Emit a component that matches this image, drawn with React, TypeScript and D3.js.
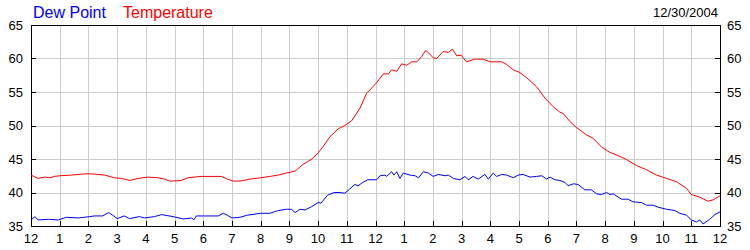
import React from "react";
import * as d3 from "d3";

const hourLabels = ["12","1","2","3","4","5","6","7","8","9","10","11","12","1","2","3","4","5","6","7","8","9","10","11","12"];
const yTicks = [35, 40, 45, 50, 55, 60, 65];
const dateLabel = "12/30/2004";

const tempHours = [0,0.25,0.47,0.65,0.82,1.0,1.4,1.93,2.2,2.57,2.9,3.15,3.44,3.73,4.08,4.42,4.66,4.83,5.24,5.47,5.93,6.63,6.84,7.05,7.28,7.63,8.0,8.32,8.61,8.9,9.2,9.48,9.78,10.0,10.18,10.41,10.7,10.93,11.17,11.46,11.69,11.87,12.04,12.27,12.45,12.56,12.74,12.91,13.09,13.26,13.44,13.61,13.75,13.84,14.01,14.13,14.36,14.54,14.68,14.83,14.98,15.17,15.46,15.75,15.99,16.4,16.57,16.8,17.03,17.27,17.61,17.9,18.19,18.42,18.54,18.77,19.0,19.35,19.58,19.87,20.16,20.51,20.75,21.1,21.44,21.79,22.14,22.49,22.84,23.0,23.3,23.58,23.76,24.0];
const tempValues = [42.6,42.1,42.3,42.2,42.4,42.5,42.6,42.8,42.75,42.6,42.2,42.1,41.8,42.1,42.3,42.2,42.0,41.7,41.8,42.2,42.4,42.4,42.0,41.7,41.7,42.0,42.2,42.4,42.6,42.9,43.2,44.2,45.0,45.9,46.9,48.3,49.5,50.0,50.7,52.6,54.8,55.6,56.4,57.7,57.7,58.3,58.1,59.2,59.0,59.5,59.5,60.3,61.2,60.9,60.1,60.0,61.05,60.9,61.4,60.4,60.5,59.5,59.9,59.9,59.5,59.5,59.1,58.3,57.9,57.1,55.8,54.1,52.8,52.0,51.8,50.6,49.7,48.6,48.1,46.8,46.0,45.4,44.9,44.0,43.4,42.6,42.1,41.6,40.6,39.7,39.3,38.7,38.9,39.5];

const dewHours = [0,0.14,0.25,0.6,0.95,1.24,1.65,2.05,2.2,2.5,2.7,2.85,3.0,3.25,3.43,3.78,3.95,4.3,4.55,4.95,5.3,5.6,5.67,5.76,6.05,6.52,6.7,6.84,7.0,7.28,7.52,8.0,8.32,8.61,8.9,9.07,9.2,9.37,9.55,9.78,10.0,10.1,10.33,10.56,10.73,10.93,11.1,11.28,11.39,11.56,11.73,12.04,12.16,12.33,12.39,12.56,12.64,12.74,12.85,12.97,13.2,13.38,13.5,13.67,13.84,14.01,14.19,14.42,14.54,14.71,14.94,15.12,15.23,15.4,15.58,15.81,15.93,16.1,16.22,16.4,16.57,16.8,16.97,17.14,17.38,17.61,17.79,17.96,18.08,18.25,18.42,18.6,18.71,18.89,19.06,19.29,19.52,19.7,19.87,20.05,20.16,20.28,20.57,20.8,20.97,21.27,21.44,21.67,21.85,22.14,22.43,22.6,22.84,23.0,23.18,23.3,23.41,23.64,23.82,24.0];
const dewValues = [35.9,36.4,35.9,36.0,35.9,36.3,36.2,36.4,36.5,36.5,37.0,36.6,36.1,36.5,36.1,36.4,36.2,36.4,36.7,36.4,36.05,36.2,35.9,36.5,36.5,36.5,36.9,36.6,36.2,36.3,36.6,36.9,36.9,37.3,37.5,37.5,37.0,37.5,37.4,37.9,38.5,38.4,39.6,40.0,40.0,39.9,40.5,41.2,41.0,41.5,41.9,41.9,42.5,42.6,42.4,43.1,42.6,43.1,42.1,42.9,42.6,42.5,42.2,43.1,42.9,42.4,42.7,42.5,42.6,42.1,41.9,42.4,41.9,42.4,42.0,42.7,42.0,42.9,42.4,42.7,42.6,42.2,42.6,42.7,42.3,42.4,42.5,42.0,42.3,41.9,41.8,41.5,41.0,41.3,41.2,40.4,40.4,39.8,39.7,40.0,39.7,39.8,39.0,39.0,38.6,38.5,38.1,38.1,37.8,37.5,37.3,36.9,36.6,35.9,35.6,35.9,35.3,36.0,36.7,37.1];

const W = 750, H = 250;
const L = 31, R = 720, T = 25, B = 226;
const FONT = "'Liberation Sans', Arial, sans-serif";

export default function App() {
  const x = d3.scaleLinear().domain([0, 24]).range([L, R]);
  const y = d3.scaleLinear().domain([35, 65]).range([B, T]);
  const line = d3.line<[number, number]>().x(d => x(d[0])).y(d => y(d[1]));
  const tempPts = tempHours.map((h, i) => [h, tempValues[i]] as [number, number]);
  const dewPts = dewHours.map((h, i) => [h, dewValues[i]] as [number, number]);
  const hours = d3.range(0, 25);
  const grid = "#cccccc";

  return (
    <svg width={W} height={H} style={{ position: "absolute", left: 0, top: 0, background: "#fff" }} fontFamily={FONT}>
      <rect x={0} y={0} width={W} height={H} fill="#fff" />
      {hours.slice(1, 24).map(h => (
        <line key={"gv" + h} x1={Math.round(x(h)) + 0.5} x2={Math.round(x(h)) + 0.5} y1={T} y2={B} stroke={grid} strokeWidth={1} />
      ))}
      {yTicks.slice(1, -1).map(v => (
        <line key={"gh" + v} x1={L} x2={R} y1={Math.round(y(v)) + 0.5} y2={Math.round(y(v)) + 0.5} stroke={grid} strokeWidth={1} />
      ))}
      {hours.map(h => (
        <line key={"tb" + h} x1={Math.round(x(h)) + 0.5} x2={Math.round(x(h)) + 0.5} y1={B} y2={B - 5} stroke="#000" strokeWidth={1} />
      ))}
      {yTicks.map(v => (
        <g key={"ty" + v}>
          <line x1={L} x2={L + 5} y1={Math.round(y(v)) + 0.5} y2={Math.round(y(v)) + 0.5} stroke="#000" strokeWidth={1} />
          <line x1={R - 5} x2={R} y1={Math.round(y(v)) + 0.5} y2={Math.round(y(v)) + 0.5} stroke="#000" strokeWidth={1} />
        </g>
      ))}
      <rect x={L + 0.5} y={T + 0.5} width={R - L} height={B - T} fill="none" stroke="#000" strokeWidth={1} />
      <path d={line(tempPts) || ""} fill="none" stroke="#ff0000" strokeWidth={1} />
      <path d={line(dewPts) || ""} fill="none" stroke="#0000ff" strokeWidth={1} />
      {yTicks.map(v => (
        <g key={"ly" + v} fontSize={13} fill="#000">
          <text x={23} y={y(v) + 4.7} textAnchor="end">{v}</text>
          <text x={727} y={y(v) + 4.7} textAnchor="start">{v}</text>
        </g>
      ))}
      {hourLabels.map((lab, i) => (
        <text key={"lx" + i} x={x(i)} y={242.5} fontSize={13} textAnchor="middle" fill="#000">{lab}</text>
      ))}
      <text x={33} y={18} fontSize={16} fill="#0000ff">Dew Point</text>
      <text x={123} y={18} fontSize={16} fill="#ff0000">Temperature</text>
      <text x={718} y={17} fontSize={13} textAnchor="end" fill="#000">{dateLabel}</text>
    </svg>
  );
}
